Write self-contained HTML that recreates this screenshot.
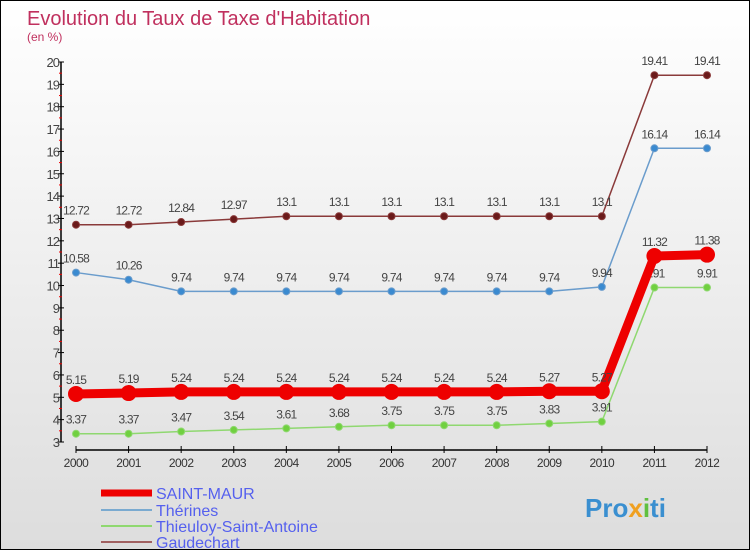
<!DOCTYPE html>
<html><head><meta charset="utf-8"><style>
body{margin:0}
#c{width:750px;height:550px;position:relative;box-sizing:border-box;border:1px solid #000;background:linear-gradient(#fff,#ddd);font-family:"Liberation Sans",sans-serif;overflow:hidden}
</style></head><body>
<div id="c">
<svg id="s" width="750" height="550" style="position:absolute;left:0;top:0">
<text x="26" y="24" font-size="20" fill="#c0305e">Evolution du Taux de Taxe d'Habitation</text>
<text x="26" y="40" font-size="12" fill="#c0305e">(en %)</text>
<g id="axes"></g><g id="series"></g>
<g>
<line x1="100" y1="492" x2="151" y2="492" stroke="#e00" stroke-width="7"/>
<text x="155" y="498" font-size="16" fill="#5560ee">SAINT-MAUR</text>
<line x1="100" y1="509" x2="151" y2="509" stroke="#7aaad0" stroke-width="2"/>
<text x="155" y="515" font-size="16" fill="#5560ee">Thérines</text>
<line x1="100" y1="525" x2="151" y2="525" stroke="#8fd870" stroke-width="2"/>
<text x="155" y="531" font-size="16" fill="#5560ee">Thieuloy-Saint-Antoine</text>
<line x1="100" y1="541" x2="151" y2="541" stroke="#a06060" stroke-width="2"/>
<text x="155" y="547" font-size="16" fill="#5560ee">Gaudechart</text>
</g>
<text x="584" y="516" font-size="26" font-weight="bold" fill="#3a8fd0">Pro<tspan fill="#f0a020">x</tspan><tspan fill="#60c040">i</tspan>ti</text>
</svg>
</div>
<script>
const years=["2000","2001","2002","2003","2004","2005","2006","2007","2008","2009","2010","2011","2012"];
const yTicks=[3,4,5,6,7,8,9,10,11,12,13,14,15,16,17,18,19,20];
const saintMaur=[5.15,5.19,5.24,5.24,5.24,5.24,5.24,5.24,5.24,5.27,5.27,11.32,11.38];
const therines=[10.58,10.26,9.74,9.74,9.74,9.74,9.74,9.74,9.74,9.74,9.94,16.14,16.14];
const thieuloy=[3.37,3.37,3.47,3.54,3.61,3.68,3.75,3.75,3.75,3.83,3.91,9.91,9.91];
const gaudechart=[12.72,12.72,12.84,12.97,13.1,13.1,13.1,13.1,13.1,13.1,13.1,19.41,19.41];
const NS="http://www.w3.org/2000/svg";
const X=i=>75+i*(706-75)/(years.length-1);
const Y=v=>441-(v-3)*(380/17);
function mk(t,a,p){const e=document.createElementNS(NS,t);for(const k in a)e.setAttribute(k,a[k]);p.appendChild(e);return e;}
const ax=document.getElementById('axes');
let e=mk('line',{x1:60,y1:Y(20),x2:60,y2:Y(3),stroke:'#000','stroke-width':1.5},ax);


e=mk('line',{x1:X(0),y1:449,x2:X(12),y2:449,stroke:'#000','stroke-width':1.5},ax);


yTicks.forEach(v=>{
 mk('line',{x1:57,y1:Y(v),x2:63,y2:Y(v),stroke:'#000'},ax);
 if(v<20) mk('line',{x1:58,y1:Y(v+0.5),x2:61,y2:Y(v+0.5),stroke:'#e00'},ax);
 const t=mk('text',{x:58,y:Y(v)+5,'font-size':13,fill:'#444','text-anchor':'end','letter-spacing':'-1'},ax);t.textContent=v;
 
 
});
years.forEach((y,i)=>{
 mk('line',{x1:X(i),y1:445,x2:X(i),y2:452,stroke:'#000'},ax);
 const t=mk('text',{x:X(i),y:466,'font-size':12,fill:'#333','text-anchor':'middle','letter-spacing':'-0.5'},ax);t.textContent=y;
 
 
});
const sg=document.getElementById('series');
function series(d,name,col,w,r,dot){
 const g=mk('g',{},sg);
 
 
 mk('polyline',{points:d.map((v,i)=>X(i)+','+Y(v)).join(' '),fill:'none',stroke:col,'stroke-width':w},g);
 d.forEach((v,i)=>{
  const c=mk('circle',{cx:X(i),cy:Y(v),r:r,fill:dot,stroke:col,'stroke-width':1},g);
  
  
  const t=mk('text',{x:X(i),y:Y(v)-10,'font-size':12,fill:'#444','text-anchor':'middle','letter-spacing':'-0.8'},g);
  t.textContent=v;
  
  
 });
}
series(gaudechart,'gaudechart','#8a3a3a',1.5,3.5,'#6a1a1a');
series(therines,'therines','#6a9ccc',1.5,3.5,'#3a8ad0');
series(thieuloy,'thieuloy','#8fd870',1.5,3.5,'#70d040');
series(saintMaur,'saint-maur','#e00',9,7.5,'#e00');
</script>
</body></html>
